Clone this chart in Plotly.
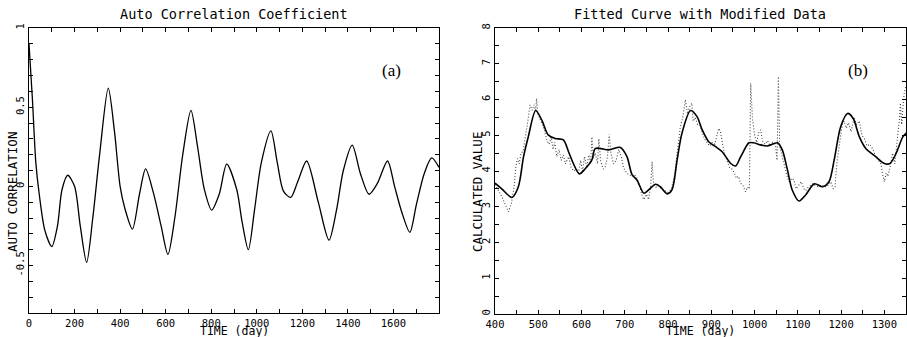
import plotly.graph_objects as go

# ---------------- data ----------------
acf_day = [0, 15, 30, 45, 70, 100, 125, 145, 170, 200, 225, 253, 280, 310, 348, 375, 400, 421, 454,
           485, 512, 546, 580, 610, 640, 675, 711, 740, 770, 802, 835, 868, 912, 935, 963, 990, 1020,
           1062, 1090, 1117, 1149, 1180, 1219, 1270, 1317, 1350, 1380, 1419, 1455, 1493, 1530, 1574,
           1605, 1636, 1672, 1700, 1735, 1768, 1800]
acf_val = [0.90, 0.55, 0.15, -0.05, -0.28, -0.38, -0.25, -0.02, 0.07, 0.0, -0.25, -0.48, -0.2, 0.2,
           0.62, 0.35, 0.0, -0.14, -0.27, -0.05, 0.11, -0.04, -0.25, -0.43, -0.2, 0.2, 0.48, 0.25,
           -0.02, -0.15, -0.05, 0.14, -0.02, -0.22, -0.40, -0.15, 0.15, 0.35, 0.15, -0.03, -0.07, 0.03,
           0.16, -0.10, -0.34, -0.15, 0.10, 0.26, 0.08, -0.05, 0.02, 0.16, 0.0, -0.16, -0.29, -0.12,
           0.08, 0.18, 0.12]

fit_day = [400, 415, 439, 454, 466, 477, 494, 508, 523, 539, 558, 570, 581, 595, 609, 624, 632, 663,
           690, 705, 717, 728, 744, 755, 771, 782, 798, 809, 821, 832, 852, 867, 879, 894, 910, 925,
           945, 956, 968, 987, 998, 1014, 1029, 1053, 1064, 1076, 1087, 1103, 1118, 1138, 1157, 1172,
           1184, 1199, 1215, 1228, 1242, 1257, 1280, 1300, 1313, 1327, 1343, 1354]
fit_val = [3.66, 3.51, 3.26, 3.56, 4.40, 4.96, 5.69, 5.43, 5.01, 4.91, 4.87, 4.54, 4.21, 3.92, 4.07,
           4.31, 4.63, 4.59, 4.66, 4.40, 3.89, 3.75, 3.38, 3.47, 3.63, 3.56, 3.36, 3.47, 4.31, 5.05,
           5.69, 5.52, 5.15, 4.82, 4.68, 4.54, 4.21, 4.14, 4.40, 4.79, 4.79, 4.73, 4.70, 4.79, 4.59,
           4.03, 3.47, 3.16, 3.33, 3.64, 3.56, 3.70, 4.31, 5.24, 5.61, 5.47, 4.96, 4.63, 4.40, 4.21,
           4.21, 4.49, 4.96, 5.10]

obs_day = [400, 408, 415, 424, 431, 438, 444, 448, 452, 456, 460, 465, 470, 476, 481, 486, 490, 494,
           496, 499, 504, 510, 515, 520, 525, 530, 534, 538, 543, 548, 553, 558, 563, 570, 576, 582,
           588, 593, 598, 602, 607, 612, 617, 621, 624, 627, 632, 637, 640, 644, 650, 655, 660, 664,
           668, 674, 680, 686, 692, 697, 701, 708, 716, 722, 728, 734, 740, 744, 750, 755, 760, 763,
           766, 772, 778, 784, 792, 800, 808, 815, 822, 828, 834, 838, 840, 845, 850, 855, 858, 863,
           868, 872, 878, 884, 890, 896, 902, 908, 913, 917, 921, 925, 930, 936, 942, 948, 953, 958,
           963, 968, 973, 979, 984, 988, 991, 995, 1000, 1005, 1010, 1014, 1018, 1024, 1030, 1036,
           1042, 1048, 1052, 1055, 1058, 1062, 1068, 1074, 1080, 1086, 1091, 1096, 1102, 1108, 1114,
           1118, 1124, 1130, 1136, 1140, 1148, 1155, 1162, 1170, 1176, 1182, 1186, 1190, 1194, 1199,
           1203, 1207, 1212, 1217, 1223, 1227, 1230, 1236, 1242, 1248, 1254, 1260, 1266, 1274, 1280,
           1286, 1292, 1296, 1300, 1304, 1308, 1313, 1319, 1324, 1328, 1332, 1335, 1337, 1340, 1343,
           1346, 1350]
obs_val = [3.62, 3.45, 3.3, 3.05, 2.86, 3.1, 3.55, 4.1, 4.35, 4.2, 4.5, 4.55, 4.9, 5.4, 5.85, 5.7,
           5.85, 5.7, 6.03, 5.6, 5.45, 5.3, 5.1, 4.85, 4.75, 4.95, 4.6, 4.8, 4.4, 4.6, 4.3, 4.45, 4.2,
           4.4, 4.1, 4.0, 4.05, 3.95, 4.3, 4.0, 4.4, 4.1, 4.45, 4.2, 4.95, 4.35, 4.5, 4.2, 4.9, 4.3,
           4.05, 4.12, 4.4, 5.03, 4.5, 4.2, 4.3, 4.6, 4.4, 4.1, 4.0, 3.9, 3.85, 3.9, 3.8, 3.6, 3.3,
           3.2, 3.35, 3.2, 3.6, 4.26, 3.7, 3.55, 3.6, 3.5, 3.45, 3.4, 3.5, 3.9, 4.6, 5.2, 5.5, 5.85,
           5.99, 5.6, 5.8, 5.9, 5.4, 5.5, 5.3, 5.35, 5.1, 4.9, 4.8, 4.7, 4.8, 4.75, 5.0, 5.19, 5.1,
           4.8, 4.5, 4.3, 4.1, 4.05, 3.95, 3.8, 3.85, 3.65, 3.6, 3.42, 3.55, 3.5, 6.45, 5.5, 5.0, 4.8,
           5.1, 5.15, 4.85, 4.75, 4.85, 4.7, 4.8, 4.75, 4.3, 6.64, 4.7, 4.5, 4.2, 3.9, 3.7, 3.8, 3.75,
           3.5, 3.6, 3.7, 3.5, 3.45, 3.55, 3.6, 3.65, 3.6, 3.55, 3.6, 3.55, 3.6, 3.7, 3.5, 3.56, 4.2,
           4.6, 5.0, 5.3, 5.4, 5.2, 5.35, 5.1, 5.3, 5.5, 5.3, 5.4, 5.0, 4.9, 4.7, 4.75, 4.6, 4.4, 4.3,
           4.2, 3.9, 3.7, 3.95, 3.85, 4.1, 4.5, 4.2, 4.6, 5.0, 5.47, 5.9, 5.3, 5.8, 6.17, 6.4]

left_xticks = [0, 200, 400, 600, 800, 1000, 1200, 1400, 1600]
left_yticks = [-0.5, 0, 0.5, 1]
left_yticktext = ["-0.5", "0", "0.5", "1"]
right_xticks = [400, 500, 600, 700, 800, 900, 1000, 1100, 1200, 1300]
right_yticks = [0, 1, 2, 3, 4, 5, 6, 7, 8]

left_title = "Auto Correlation Coefficient"
right_title = "Fitted Curve with Modified Data"
x_title = "TIME (day)"
left_ytitle = "AUTO CORRELATION"
right_ytitle = "CALCULATED VALUE"

# ---------------- figure ----------------
W, H = 907, 337
MONO = "DejaVu Sans Mono"

def fx(px):
    return px / W

def fy(py):
    return 1 - py / H

fig = go.Figure()
fig.add_trace(go.Scatter(x=acf_day, y=acf_val, mode="lines",
                         line=dict(color="black", width=1.3, shape="spline", smoothing=0.8),
                         xaxis="x", yaxis="y", showlegend=False))
fig.add_trace(go.Scatter(x=obs_day, y=obs_val, mode="lines",
                         line=dict(color="#444", width=1.1, dash="1px,2px"),
                         xaxis="x2", yaxis="y2", showlegend=False))
fig.add_trace(go.Scatter(x=fit_day, y=fit_val, mode="lines",
                         line=dict(color="black", width=1.6, shape="spline", smoothing=0.8),
                         xaxis="x2", yaxis="y2", showlegend=False))

axis_common = dict(showgrid=False, zeroline=False, showline=True, linecolor="black", linewidth=1,
                   mirror="ticks", ticks="inside", ticklen=4, tickcolor="black", tickwidth=1,
                   tickfont=dict(family=MONO, size=10.5, color="black"), automargin=False)

fig.update_layout(
    width=W, height=H, margin=dict(l=0, r=0, t=0, b=0),
    paper_bgcolor="white", plot_bgcolor="white",
    xaxis=dict(domain=[fx(29), fx(439)], range=[0, 1800], tickmode="array", tickvals=left_xticks,
               minor=dict(dtick=100, tick0=0, ticks="inside", ticklen=4, tickcolor="black"),
               anchor="y", **axis_common),
    yaxis=dict(domain=[fy(313), fy(28)], range=[-0.8, 1], tickangle=-90,
               tickmode="array", tickvals=left_yticks, ticktext=left_yticktext,
               minor=dict(dtick=0.1, tick0=0, ticks="inside", ticklen=4, tickcolor="black"),
               anchor="x", **axis_common),
    xaxis2=dict(domain=[fx(495), fx(906)], range=[400, 1350], tickmode="array", tickvals=right_xticks,
                minor=dict(dtick=50, tick0=0, ticks="inside", ticklen=4, tickcolor="black"),
                anchor="y2", **axis_common),
    yaxis2=dict(domain=[fy(314), fy(28)], range=[0, 8], tickangle=-90,
                tickmode="array", tickvals=right_yticks,
                minor=dict(dtick=0.5, tick0=0, ticks="inside", ticklen=4, tickcolor="black"),
                anchor="x2", **axis_common),
)

ann = []
def add_text(x, y, text, size, family=MONO, angle=0):
    ann.append(dict(x=fx(x), y=fy(y), xref="paper", yref="paper", text=text, showarrow=False,
                    font=dict(family=family, size=size, color="black"), textangle=angle,
                    xanchor="center", yanchor="middle"))

add_text(234, 14, left_title, 13.5)
add_text(700, 14, right_title, 13.5)
add_text(234, 331, x_title, 11.5)
add_text(700, 331, x_title, 11.5)
add_text(12, 192, left_ytitle, 12.5, angle=-90)
add_text(477, 192, right_ytitle, 12.5, angle=-90)
add_text(391, 70, "(a)", 17, family="Liberation Serif")
add_text(858, 70, "(b)", 17, family="Liberation Serif")
fig.update_layout(annotations=ann)

fig.write_html("out.html")
